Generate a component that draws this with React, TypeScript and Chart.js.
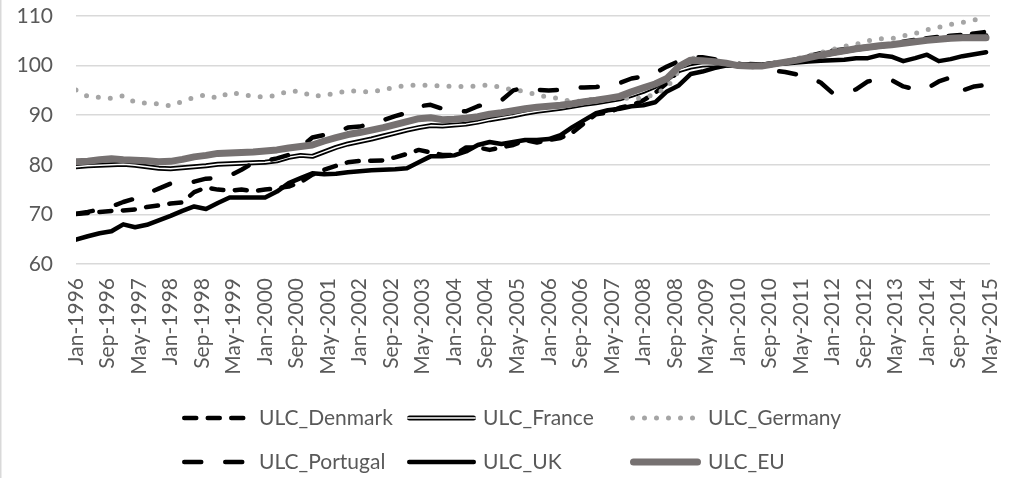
import React, { useEffect, useRef } from "react";
import { Chart, registerables } from "chart.js";

Chart.register(...registerables);

// Tick labels every 8 months (x axis in months from Jan-1996)
const TICK_LABELS = [
  "Jan-1996", "Sep-1996", "May-1997", "Jan-1998", "Sep-1998", "May-1999",
  "Jan-2000", "Sep-2000", "May-2001", "Jan-2002", "Sep-2002", "May-2003",
  "Jan-2004", "Sep-2004", "May-2005", "Jan-2006", "Sep-2006", "May-2007",
  "Jan-2008", "Sep-2008", "May-2009", "Jan-2010", "Sep-2010", "May-2011",
  "Jan-2012", "Sep-2012", "May-2013", "Jan-2014", "Sep-2014", "May-2015",
];

// Quarterly values, 1996Q1 .. 2015Q2
const ULC_DENMARK = [
  70.1, 70.3, 70.5, 70.7, 70.8, 71.0, 71.5, 71.8, 72.2, 72.4, 74.5, 75.4,
  75.0, 74.8, 75.0, 74.7, 75.0, 75.3, 75.6, 76.5, 78.0, 79.0, 79.8, 80.5,
  80.8, 80.8, 80.9, 81.5, 82.2, 83.0, 82.5, 82.0, 82.0, 83.5, 83.5, 83.0,
  83.5, 84.0, 85.0, 84.5, 85.0, 85.4, 86.5, 88.4, 90.2, 90.5, 91.5, 92.0,
  93.0, 94.5, 96.5, 99.0, 100.5, 100.8, 100.5, 100.2, 100.0, 100.2, 100.2, 100.5,
  100.8, 101.3, 101.9, 102.5, 103.0, 103.3, 103.6, 103.8, 104.0, 104.3, 104.8, 105.2,
  105.5, 105.8, 106.0, 106.2, 106.5, 106.8,
];
const ULC_FRANCE = [
  79.6, 79.8, 79.9, 80.0, 80.1, 79.9, 79.6, 79.3, 79.2, 79.4, 79.6, 79.8,
  80.1, 80.2, 80.3, 80.4, 80.5, 80.8, 81.5, 81.9, 81.7, 82.6, 83.5, 84.2,
  84.7, 85.2, 85.8, 86.4, 87.0, 87.5, 87.9, 87.8, 88.0, 88.2, 88.6, 89.1,
  89.5, 89.9, 90.4, 90.8, 91.1, 91.4, 91.8, 92.2, 92.5, 92.9, 93.3, 94.0,
  94.8, 95.8, 97.2, 99.0, 99.7, 100.1, 100.2, 100.1, 100.0, 99.9, 99.9, 100.2,
  100.6, 101.0, 101.5, 102.0, 102.5, 102.9, 103.3, 103.6, 103.9, 104.2, 104.5, 104.8,
  105.1, 105.4, 105.6, 105.8, 105.9, 106.0,
];
const ULC_GERMANY = [
  95.1, 93.8, 93.6, 93.4, 93.9, 92.6, 92.4, 92.3, 91.9, 92.8, 93.6, 94.1,
  93.4, 94.6, 94.2, 93.8, 93.7, 94.0, 94.9, 94.8, 93.8, 94.0, 94.4, 95.0,
  94.8, 94.7, 95.1, 95.7, 96.0, 96.1, 96.0, 95.9, 95.8, 95.8, 95.9, 96.1,
  95.6, 95.1, 94.8, 94.1, 93.6, 93.4, 92.6, 93.0, 93.3, 93.4, 93.5, 93.4,
  93.4, 94.3, 95.5, 99.0, 101.6, 101.2, 100.8, 100.3, 100.0, 99.7, 99.8, 100.3,
  100.8, 101.4, 102.0, 102.6, 103.2, 103.9, 104.3, 105.0, 105.4, 105.4, 106.0, 106.5,
  107.2, 107.7, 108.3, 108.7, 109.2, 109.7,
];
const ULC_PORTUGAL = [
  70.1, 70.5, 71.0, 71.6, 72.5, 73.2, 74.2, 75.2, 76.2, 76.2, 76.6, 77.2,
  77.3, 77.8, 79.0, 80.4, 80.8, 81.3, 82.0, 83.5, 85.5, 86.0, 86.5, 87.5,
  87.7, 88.3, 89.0, 89.8, 90.5, 91.8, 92.1, 91.3, 90.8, 90.8, 91.8, 92.5,
  93.0, 95.0, 95.6, 95.1, 95.0, 95.1, 95.5, 95.6, 95.7, 96.0, 96.5, 97.4,
  97.8, 98.5, 99.8, 100.9, 101.6, 101.7, 101.3, 100.8, 100.4, 100.0, 99.6, 99.0,
  98.7, 98.2, 97.6, 96.6, 94.5, 94.6, 95.2, 96.8, 97.3, 97.1, 95.8, 95.2,
  95.4, 96.8, 97.6, 95.0, 95.8, 96.1,
];
const ULC_UK = [
  64.9, 65.6, 66.2, 66.6, 68.0, 67.4, 67.9, 68.8, 69.7, 70.7, 71.6, 71.1,
  72.3, 73.4, 73.4, 73.4, 73.4, 74.6, 76.3, 77.3, 78.3, 78.1, 78.2, 78.5,
  78.7, 78.9, 79.0, 79.1, 79.3, 80.5, 81.7, 81.7, 81.9, 82.7, 84.0, 84.6,
  84.2, 84.6, 85.0, 85.0, 85.2, 86.0, 87.6, 89.0, 90.4, 91.0, 91.3, 91.8,
  92.0, 92.6, 94.8, 96.0, 98.3, 98.8, 99.5, 100.0, 100.0, 100.3, 100.2, 100.5,
  100.4, 100.6, 100.8, 101.0, 101.1, 101.2, 101.5, 101.5, 102.1, 101.8, 100.9, 101.5,
  102.2, 100.9, 101.3, 101.9, 102.3, 102.7,
];
const ULC_EU = [
  80.6, 80.7, 81.0, 81.2, 81.0, 80.9, 80.8, 80.6, 80.7, 81.1, 81.6, 81.9,
  82.3, 82.4, 82.5, 82.6, 82.8, 83.0, 83.4, 83.7, 84.0, 84.8, 85.5, 86.1,
  86.5, 87.0, 87.5, 88.1, 88.7, 89.3, 89.5, 89.1, 89.2, 89.4, 89.7, 90.2,
  90.5, 90.9, 91.3, 91.6, 91.8, 92.0, 92.3, 92.7, 93.0, 93.4, 93.8, 94.7,
  95.5, 96.3, 97.4, 99.8, 101.1, 101.0, 100.8, 100.5, 100.0, 99.9, 99.9, 100.3,
  100.7, 101.1, 101.6, 102.1, 102.6, 103.0, 103.4, 103.7, 104.0, 104.2, 104.5, 104.8,
  105.1, 105.3, 105.5, 105.6, 105.6, 105.6,
];

const FONT_FAMILY = "Lato";
const FONT_SIZE = 21;
const TEXT_COLOR = "#595959";
const GRID_COLOR = "#D9D9D9";
const MONTHS_PER_QUARTER = 3;
const X_MAX = 232;

type Style = {
  color: string;
  width: number;
  dash: number[];
  inner?: { color: string; width: number };
};

const STYLES: Record<string, Style> = {
  ULC_Denmark: { color: "#000000", width: 4.5, dash: [12, 11.5] },
  ULC_France: { color: "#000000", width: 5, dash: [], inner: { color: "#FFFFFF", width: 1.5 } },
  ULC_Germany: { color: "#A5A5A5", width: 5, dash: [0, 12] },
  ULC_Portugal: { color: "#000000", width: 4.5, dash: [17, 24] },
  ULC_UK: { color: "#000000", width: 4.5, dash: [] },
  ULC_EU: { color: "#767171", width: 7, dash: [] },
};

const LEGEND_ORDER = [
  ["ULC_Denmark", "ULC_France", "ULC_Germany"],
  ["ULC_Portugal", "ULC_UK", "ULC_EU"],
];

const toPoints = (arr: number[]) => arr.map((y, i) => ({ x: i * MONTHS_PER_QUARTER, y }));

const bgPlugin = {
  id: "bgBorder",
  beforeDraw(chart: any) {
    const { ctx, width, height } = chart;
    ctx.save();
    ctx.fillStyle = "#FFFFFF";
    ctx.fillRect(0, 0, width, height);
    ctx.strokeStyle = GRID_COLOR;
    ctx.lineWidth = 1.5;
    ctx.beginPath();
    ctx.moveTo(0.75, 0);
    ctx.lineTo(0.75, height);
    ctx.stroke();
    ctx.restore();
  },
};

const legendPlugin = {
  id: "excelLegend",
  afterDraw(chart: any) {
    const { ctx } = chart;
    const colStart = [182, 407, 630];
    const textX = [259, 483, 708];
    const rowY = [418, 462];
    ctx.save();
    LEGEND_ORDER.forEach((row, r) => {
      row.forEach((name, c) => {
        const st = STYLES[name];
        const y = rowY[r];
        const s = colStart[c];
        const e = textX[c] - 7;
        const strokeSample = (color: string, w: number, dash: number[]) => {
          ctx.strokeStyle = color;
          ctx.lineWidth = w;
          ctx.lineCap = "round";
          ctx.setLineDash(dash);
          ctx.lineDashOffset = 0;
          ctx.beginPath();
          ctx.moveTo(s + w / 2, y);
          ctx.lineTo(e - w / 2, y);
          ctx.stroke();
        };
        strokeSample(st.color, st.width, st.dash);
        if (st.inner) strokeSample(st.inner.color, st.inner.width, []);
        ctx.setLineDash([]);
        ctx.fillStyle = TEXT_COLOR;
        ctx.font = `${FONT_SIZE}px ${FONT_FAMILY}`;
        ctx.textBaseline = "middle";
        ctx.textAlign = "left";
        ctx.fillText(name, textX[c], y);
      });
    });
    ctx.restore();
  },
};

function lineDataset(label: string, data: number[], order: number, color: string, width: number, dash: number[]) {
  return {
    label,
    data: toPoints(data),
    order,
    borderColor: color,
    backgroundColor: color,
    borderWidth: width,
    borderDash: dash,
    borderCapStyle: "round" as const,
    borderJoinStyle: "round" as const,
    pointRadius: 0,
    pointHoverRadius: 0,
    tension: 0,
    fill: false,
  };
}

export default function App() {
  const ref = useRef<HTMLCanvasElement>(null);

  useEffect(() => {
    document.body.style.margin = "0";
    const canvas = ref.current;
    if (!canvas) return;
    const S = STYLES;
    const chart = new Chart(canvas, {
      type: "line",
      data: {
        datasets: [
          lineDataset("ULC_EU", ULC_EU, 0, S.ULC_EU.color, S.ULC_EU.width, S.ULC_EU.dash),
          lineDataset("ULC_UK", ULC_UK, 1, S.ULC_UK.color, S.ULC_UK.width, S.ULC_UK.dash),
          lineDataset("ULC_Portugal", ULC_PORTUGAL, 2, S.ULC_Portugal.color, S.ULC_Portugal.width, S.ULC_Portugal.dash),
          lineDataset("ULC_Germany", ULC_GERMANY, 3, S.ULC_Germany.color, S.ULC_Germany.width, S.ULC_Germany.dash),
          lineDataset("ULC_France_inner", ULC_FRANCE, 4, S.ULC_France.inner!.color, S.ULC_France.inner!.width, []),
          lineDataset("ULC_France", ULC_FRANCE, 5, S.ULC_France.color, S.ULC_France.width, S.ULC_France.dash),
          lineDataset("ULC_Denmark", ULC_DENMARK, 6, S.ULC_Denmark.color, S.ULC_Denmark.width, S.ULC_Denmark.dash),
        ],
      },
      options: {
        responsive: false,
        animation: false,
        events: [],
        layout: { padding: { top: 16, right: 24, left: 0, bottom: 0 } },
        plugins: {
          legend: { display: false },
          tooltip: { enabled: false },
          title: { display: false },
        },
        scales: {
          x: {
            type: "linear",
            min: 0,
            max: X_MAX,
            grid: { display: false, drawTicks: false },
            border: { display: false },
            ticks: {
              stepSize: 8,
              autoSkip: false,
              minRotation: 90,
              maxRotation: 90,
              padding: 14,
              color: TEXT_COLOR,
              font: { family: FONT_FAMILY, size: FONT_SIZE },
              callback: (v: any) => TICK_LABELS[Math.round(Number(v) / 8)] ?? "",
            },
            afterFit: (s: any) => {
              s.height = 214;
              s.paddingLeft = 0;
              s.paddingRight = 0;
            },
          },
          y: {
            min: 60,
            max: 110,
            grid: { color: GRID_COLOR, lineWidth: 1.5, drawTicks: false },
            border: { display: false },
            ticks: {
              stepSize: 10,
              padding: 23,
              color: TEXT_COLOR,
              font: { family: FONT_FAMILY, size: FONT_SIZE },
            },
            afterFit: (s: any) => {
              s.width = 76;
              s.paddingTop = 0;
              s.paddingBottom = 0;
            },
          },
        },
      },
      plugins: [bgPlugin, legendPlugin],
    });
    return () => chart.destroy();
  }, []);

  return <canvas ref={ref} width={1014} height={478} style={{ display: "block" }} />;
}
